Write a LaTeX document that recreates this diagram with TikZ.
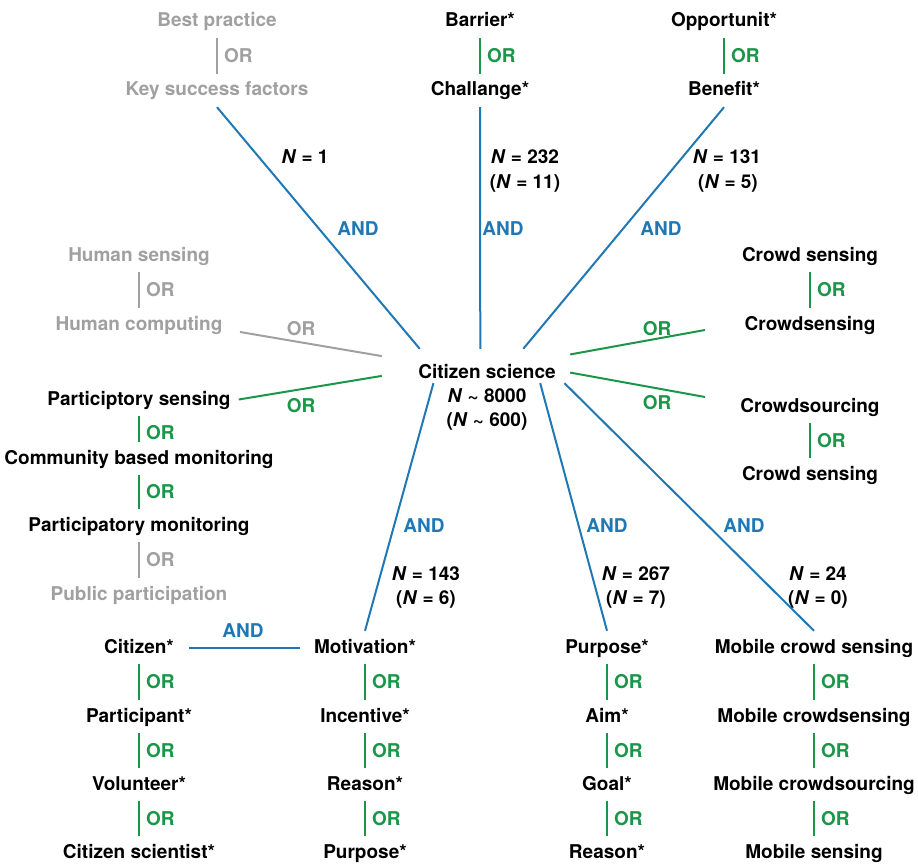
\documentclass[tikz,border=0pt]{standalone}
\usepackage{fontspec}
\setmainfont{TeX Gyre Heros}
\definecolor{andblue}{RGB}{31,120,180}
\definecolor{orgreen}{RGB}{26,150,72}
\definecolor{offgray}{RGB}{160,160,160}
\tikzset{
  lbl/.style={font=\fontsize{19}{24}\selectfont\bfseries},
  term/.style={lbl, anchor=base, text height=16pt, text depth=5pt, inner xsep=8pt, inner ysep=6pt},
  offterm/.style={term, text=offgray},
  orlbl/.style={lbl, text=orgreen, anchor=west, inner sep=0pt, xshift=6pt},
  offor/.style={orlbl, text=offgray},
  andlbl/.style={lbl, text=andblue, anchor=base, inner sep=0pt},
  nlbl/.style={lbl, anchor=base, inner sep=0pt},
  andline/.style={draw=andblue, line width=2pt},
  orline/.style={draw=orgreen, line width=2pt},
  offline/.style={draw=offgray, line width=2pt},
  hubbox/.style={minimum width=188pt, minimum height=34pt, inner sep=0pt}
}
\begin{document}
\begin{tikzpicture}[x=1pt,y=-1pt]
\useasboundingbox (0,0) rectangle (918,864);

% top row
\node[offterm] (bp) at (217,27) {Best practice};
\node[offterm] (ksf) at (217,96) {Key success factors};
\draw[offline] (bp) -- node[offor] (or1) {OR} (ksf);
\node[term] (bar) at (480,27) {Barrier*};
\node[term] (chal) at (480,96) {Challange*};
\draw[orline] (bar) -- node[orlbl] (or2) {OR} (chal);
\node[term] (opp) at (724,27) {Opportunit*};
\node[term] (ben) at (724,96) {Benefit*};
\draw[orline] (opp) -- node[orlbl] (or3) {OR} (ben);

% left side
\node[offterm] (hs) at (139,261) {Human sensing};
\node[offterm] (hc) at (139,330) {Human computing};
\draw[offline] (hs) -- node[offor] (or4) {OR} (hc);
\node[term] (ps) at (139,405) {Participtory sensing};
\node[term] (cbm) at (139,464) {Community based monitoring};
\node[term] (pm) at (139,531) {Participatory monitoring};
\node[offterm] (pp) at (139,600) {Public participation};
\draw[orline] (ps) -- node[orlbl, yshift=-4pt] (or5) {OR} (cbm);
\draw[orline] (cbm) -- node[orlbl] (or6) {OR} (pm);
\draw[offline] (pm) -- node[offor] (or7) {OR} (pp);

% right side
\node[term] (cws) at (810,261) {Crowd sensing};
\node[term] (cwsg) at (810,330) {Crowdsensing};
\draw[orline] (cws) -- node[orlbl] (or8) {OR} (cwsg);
\node[term] (cwsrc) at (810,412) {Crowdsourcing};
\node[term] (cws2) at (810,480) {Crowd sensing};
\draw[orline] (cwsrc) -- node[orlbl] (or9) {OR} (cws2);

% centre
\node[hubbox] (hub) at (476,366) {};
\node[term] (cs) at (487,378) {Citizen science};
\node[nlbl] (cs1) at (487,402) {\textit{N} \textasciitilde{} 8000};
\node[nlbl] (cs2) at (487,426) {(\textit{N} \textasciitilde{} 600)};

% bottom columns
\node[term] (cit) at (139,653) {Citizen*};
\node[term] (part) at (139,722) {Participant*};
\node[term] (vol) at (139,790) {Volunteer*};
\node[term] (cits) at (139,858) {Citizen scientist*};
\draw[orline] (cit) -- node[orlbl] (or10) {OR} (part);
\draw[orline] (part) -- node[orlbl] (or11) {OR} (vol);
\draw[orline] (vol) -- node[orlbl] (or12) {OR} (cits);

\node[term] (mot) at (365,653) {Motivation*};
\node[term] (inc) at (365,722) {Incentive*};
\node[term] (rea) at (365,790) {Reason*};
\node[term] (pur) at (365,858) {Purpose*};
\draw[orline] (mot) -- node[orlbl] (or13) {OR} (inc);
\draw[orline] (inc) -- node[orlbl] (or14) {OR} (rea);
\draw[orline] (rea) -- node[orlbl] (or15) {OR} (pur);

\node[term] (purp) at (607,653) {Purpose*};
\node[term] (aim) at (607,722) {Aim*};
\node[term] (goal) at (607,790) {Goal*};
\node[term] (reas) at (607,858) {Reason*};
\draw[orline] (purp) -- node[orlbl] (or16) {OR} (aim);
\draw[orline] (aim) -- node[orlbl] (or17) {OR} (goal);
\draw[orline] (goal) -- node[orlbl] (or18) {OR} (reas);

\node[term] (mcs) at (814,653) {Mobile crowd sensing};
\node[term] (mcsg) at (814,722) {Mobile crowdsensing};
\node[term] (mcsrc) at (814,790) {Mobile crowdsourcing};
\node[term] (ms) at (814,858) {Mobile sensing};
\draw[orline] (mcs) -- node[orlbl] (or19) {OR} (mcsg);
\draw[orline] (mcsg) -- node[orlbl] (or20) {OR} (mcsrc);
\draw[orline] (mcsrc) -- node[orlbl] (or21) {OR} (ms);

% spokes
\coordinate (hcend) at (240,332);
\coordinate (cwsgend) at (705,330);
\coordinate (cwsrcend) at (705,397);
\draw[andline] (ksf.south) -- (hub.163);
\draw[andline] (chal.south) -- (hub.76);
\draw[andline] (ben.south) -- (hub.20);
\draw[offline] (hcend) -- (hub.174);
\draw[orline] (ps.east) -- (hub.186);
\draw[orline] (hub.7) -- (cwsgend);
\draw[orline] (hub.356) -- (cwsrcend);
\draw[andline] (hub.202) -- (mot.north);
\draw[andline] (hub.345) -- (purp.north);
\draw[andline] (hub.349) -- (mcs.north);
\draw[andline, shorten <=7pt, shorten >=6pt] (cit) -- (mot);

% spoke labels
\node[andlbl] (and1) at (358,235) {AND};
\node[andlbl] (and2) at (503,235) {AND};
\node[andlbl] (and3) at (661,235) {AND};
\node[andlbl] (and4) at (424,532) {AND};
\node[andlbl] (and5) at (607,532) {AND};
\node[andlbl] (and6) at (744,532) {AND};
\node[andlbl] (and7) at (243,637) {AND};
\node[lbl, text=offgray, anchor=base, inner sep=0pt] (or22) at (301,335) {OR};
\node[lbl, text=orgreen, anchor=base, inner sep=0pt] (or23) at (301,412) {OR};
\node[lbl, text=orgreen, anchor=base, inner sep=0pt] (or24) at (657,335) {OR};
\node[lbl, text=orgreen, anchor=base, inner sep=0pt] (or25) at (657,409) {OR};

\node[nlbl] (n1) at (305,164) {\textit{N} = 1};
\node[nlbl] (n2) at (525,164) {\textit{N} = 232};
\node[nlbl] (n2b) at (525,188) {(\textit{N} = 11)};
\node[nlbl] (n3) at (727,164) {\textit{N} = 131};
\node[nlbl] (n3b) at (728,188) {(\textit{N} = 5)};
\node[nlbl] (n4) at (426,580) {\textit{N} = 143};
\node[nlbl] (n4b) at (426,604) {(\textit{N} = 6)};
\node[nlbl] (n5) at (636,580) {\textit{N} = 267};
\node[nlbl] (n5b) at (636,604) {(\textit{N} = 7)};
\node[nlbl] (n6) at (818,580) {\textit{N} = 24};
\node[nlbl] (n6b) at (818,604) {(\textit{N} = 0)};
\end{tikzpicture}
\end{document}
